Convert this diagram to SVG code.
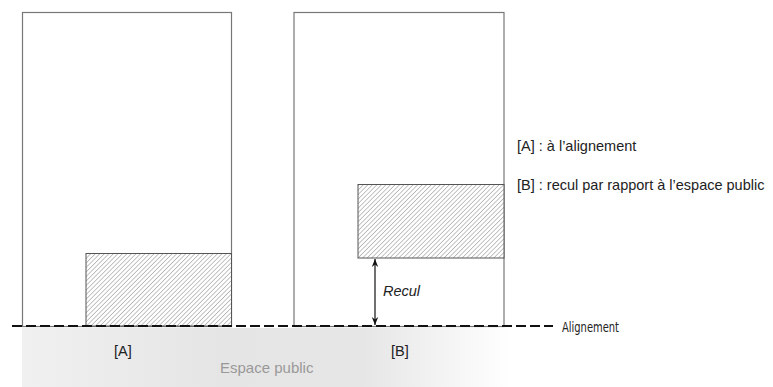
<svg xmlns="http://www.w3.org/2000/svg" width="773" height="387" viewBox="0 0 773 387">
<defs>
<style>
.frame{fill:none;stroke:#777;stroke-width:1.2}
.hatch{fill:url(#hatch);stroke:#555;stroke-width:1}
.lbl{font-family:"Liberation Sans",Arial,sans-serif;font-size:14.5px;fill:#222}
.pub{font-family:"Liberation Sans",Arial,sans-serif;font-size:15px;fill:#999}
.cond{font-family:"DejaVu Sans Condensed","Liberation Sans Narrow","Liberation Sans",sans-serif;font-size:13.5px;fill:#222}
</style>
<pattern id="hatch" patternUnits="userSpaceOnUse" width="3.2" height="3.2" patternTransform="rotate(45)">
<rect width="3.2" height="3.2" fill="#fff"/>
<line x1="0" y1="0" x2="0" y2="3.2" stroke="#7a7a7a" stroke-width="0.9"/>
</pattern>
<linearGradient id="band" x1="22" y1="0" x2="510" y2="0" gradientUnits="userSpaceOnUse">
<stop offset="0" stop-color="#f1f0f0"/>
<stop offset="0.4" stop-color="#e6e5e5"/>
<stop offset="0.7" stop-color="#e7e6e6"/>
<stop offset="1" stop-color="#ffffff"/>
</linearGradient>
<marker id="arr" viewBox="0 0 10 10" refX="10" refY="5" markerWidth="8" markerHeight="8" orient="auto-start-reverse" markerUnits="userSpaceOnUse">
<path d="M0,1 L10,5 L0,9 L3,5 Z" fill="#111"/>
</marker>
</defs>
<rect x="22" y="328" width="490" height="59" fill="url(#band)"/>
<g id="parcelA">
<rect class="frame" x="22.5" y="12.5" width="209" height="314"/>
</g>
<g id="parcelB">
<rect class="frame" x="294" y="12.5" width="210" height="314"/>
</g>
<g id="buildingA">
<rect class="hatch" x="86" y="253.5" width="145.5" height="72.5"/>
</g>
<g id="buildingB">
<rect class="hatch" x="358" y="184.5" width="146" height="73.5"/>
</g>
<g id="connectors">
<line x1="12" y1="326" x2="553" y2="326" stroke="#111" stroke-width="2" stroke-dasharray="10,4"/>
<line x1="375" y1="259" x2="375" y2="325" stroke="#111" stroke-width="1.2" marker-start="url(#arr)" marker-end="url(#arr)"/>
</g>
<g id="labels">
<text class="lbl" x="383" y="296" font-style="italic" font-size="13.5">Recul</text>
<text class="lbl" x="114" y="356">[A]</text>
<text class="lbl" x="391" y="356">[B]</text>
<text class="pub" x="220" y="373">Espace public</text>
<text class="cond" x="562" y="331.5" textLength="57" lengthAdjust="spacingAndGlyphs">Alignement</text>
<text class="lbl" x="517" y="151">[A] : à l’alignement</text>
<text class="lbl" x="517" y="190">[B] : recul par rapport à l’espace public</text>
</g>
</svg>
